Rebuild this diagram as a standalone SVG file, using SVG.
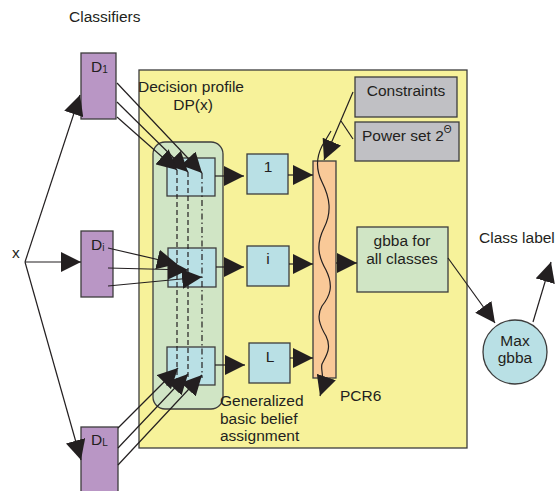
<svg xmlns="http://www.w3.org/2000/svg" width="555" height="491" viewBox="0 0 555 491">
<style>
text{font-family:"Liberation Sans",Arial,sans-serif;fill:#231f20;font-size:15.5px}
.c{text-anchor:middle}
.box{stroke:#3c3c3c;stroke-width:1.3}
.ln{fill:none;stroke:#231f20;stroke-width:1.2}
.arr{fill:none;stroke:#231f20;stroke-width:1.2;marker-end:url(#ah)}
.dash{fill:none;stroke:#231f20;stroke-width:1.2;stroke-dasharray:5,3}
.dashdot{fill:none;stroke:#231f20;stroke-width:1.2;stroke-dasharray:6,3,1.5,3}
.blue{fill:#b9e0e5}
.purple{fill:#b996c5}
.gray{fill:#c0c0c4}
.green{fill:#d0e5c5}
</style>
<defs>
<marker id="ah" markerUnits="userSpaceOnUse" viewBox="0 0 20 20" refX="20" refY="10" markerWidth="20" markerHeight="20" orient="auto">
<path d="M0,0 L20,10 L0,20 z" fill="#231f20"/>
</marker>
</defs>
<rect width="555" height="491" fill="#ffffff"/>
<g id="container">
<rect x="139" y="70" width="328" height="378" fill="#f7f29a" class="box"/>
</g>
<text x="69" y="22" font-size="15.5">Classifiers</text>
<text x="12" y="258">x</text>
<g id="decision-profile">
<rect x="153" y="142" width="70" height="267" rx="12" ry="12" class="box green"/>
<text x="191" y="92" class="c">Decision profile</text>
<text x="193" y="110" class="c">DP(x)</text>
</g>
<g id="dp-row-1"><rect x="167" y="158" width="48" height="38" class="box blue"/></g>
<g id="dp-row-i"><rect x="168" y="248" width="48" height="39" class="box blue"/></g>
<g id="dp-row-L"><rect x="167" y="347" width="48" height="38" class="box blue"/></g>
<g id="D1"><rect x="81" y="53" width="35" height="66" class="box purple"/><text x="91" y="72" font-size="15">D<tspan font-size="10" dy="1">1</tspan></text></g>
<g id="Di"><rect x="81" y="231" width="32" height="66" class="box purple"/><text x="91" y="250" font-size="15">D<tspan font-size="10" dy="1">i</tspan></text></g>
<g id="DL"><rect x="81" y="427" width="37" height="80" class="box purple"/><text x="91" y="445" font-size="15">D<tspan font-size="10" dy="1">L</tspan></text></g>
<g id="bba-1"><rect x="247" y="154" width="41" height="40" class="box blue"/><text x="268" y="172" class="c" font-size="16">1</text></g>
<g id="bba-i"><rect x="247" y="246" width="42" height="40" class="box blue"/><text x="268" y="264" class="c" font-size="16">i</text></g>
<g id="bba-L"><rect x="249" y="343" width="41" height="40" class="box blue"/><text x="270" y="362" class="c" font-size="16">L</text></g>
<g id="gbba-label">
<text x="220" y="406">Generalized</text>
<text x="220" y="424">basic belief</text>
<text x="220" y="441">assignment</text>
</g>
<g id="pcr6">
<rect x="313" y="161" width="23" height="217" fill="#f9c998" class="box"/>
<text x="340" y="401" font-size="19.5">PCR6</text>
</g>
<g id="constraints"><rect x="355" y="77" width="102" height="40" class="box gray"/><text x="406" y="96" class="c">Constraints</text></g>
<g id="powerset"><rect x="355" y="122" width="104" height="39" class="box gray"/><text x="362" y="141">Power set 2<tspan font-size="10" dy="-8">Θ</tspan></text></g>
<g id="gbba-all"><rect x="357" y="227" width="91" height="65" class="box green"/><text x="402" y="246" class="c">gbba for</text><text x="402" y="264" class="c">all classes</text></g>
<g id="max-gbba"><circle cx="515" cy="352" r="32" class="box blue"/><text x="515" y="346" class="c">Max</text><text x="515" y="363" class="c">gbba</text></g>
<text x="479" y="243">Class label</text>
<g id="connectors">
<line x1="25" y1="262" x2="80" y2="95" class="arr"/>
<line x1="25" y1="262" x2="81" y2="262" class="arr"/>
<line x1="25" y1="262" x2="81" y2="460" class="arr"/>
<line x1="177" y1="170" x2="177" y2="380" class="dash"/>
<line x1="188" y1="172" x2="188" y2="380" class="dash"/>
<line x1="202" y1="173" x2="202" y2="378" class="dashdot"/>
<line x1="117" y1="83" x2="202" y2="173" class="arr"/>
<line x1="117" y1="102" x2="188" y2="172" class="arr"/>
<line x1="117" y1="117" x2="177" y2="170" class="arr"/>
<line x1="108" y1="248" x2="177" y2="264" class="arr"/>
<line x1="108" y1="268" x2="188" y2="270" class="arr"/>
<line x1="108" y1="286" x2="202" y2="277" class="arr"/>
<line x1="118" y1="428" x2="178" y2="368" class="arr"/>
<line x1="118" y1="448" x2="188" y2="374" class="arr"/>
<line x1="118" y1="465" x2="202" y2="375" class="arr"/>
<line x1="215" y1="176" x2="244" y2="176" class="arr"/>
<line x1="216" y1="267" x2="244" y2="267" class="arr"/>
<line x1="215" y1="365" x2="245" y2="365" class="arr"/>
<line x1="288" y1="175" x2="313" y2="175" class="arr"/>
<line x1="289" y1="264" x2="313" y2="264" class="arr"/>
<line x1="290" y1="358" x2="313" y2="358" class="arr"/>
<line x1="336" y1="263" x2="357" y2="263" class="arr"/>
<line x1="448" y1="258" x2="495" y2="323" class="arr"/>
<line x1="533" y1="322" x2="551" y2="262" class="arr"/>
<line x1="353" y1="92" x2="324" y2="160" class="arr"/>
<line x1="353" y1="139" x2="341" y2="121" class="ln"/>
<path d="M331,131 L322,146 C316,158 316,170 322,182 C330,198 332,212 324,228 C316,244 318,256 326,270 C334,286 330,296 322,306 C316,316 320,326 326,336 C332,348 326,356 322,364 C320,370 326,378 320,396" class="arr"/>
</g>
</svg>
